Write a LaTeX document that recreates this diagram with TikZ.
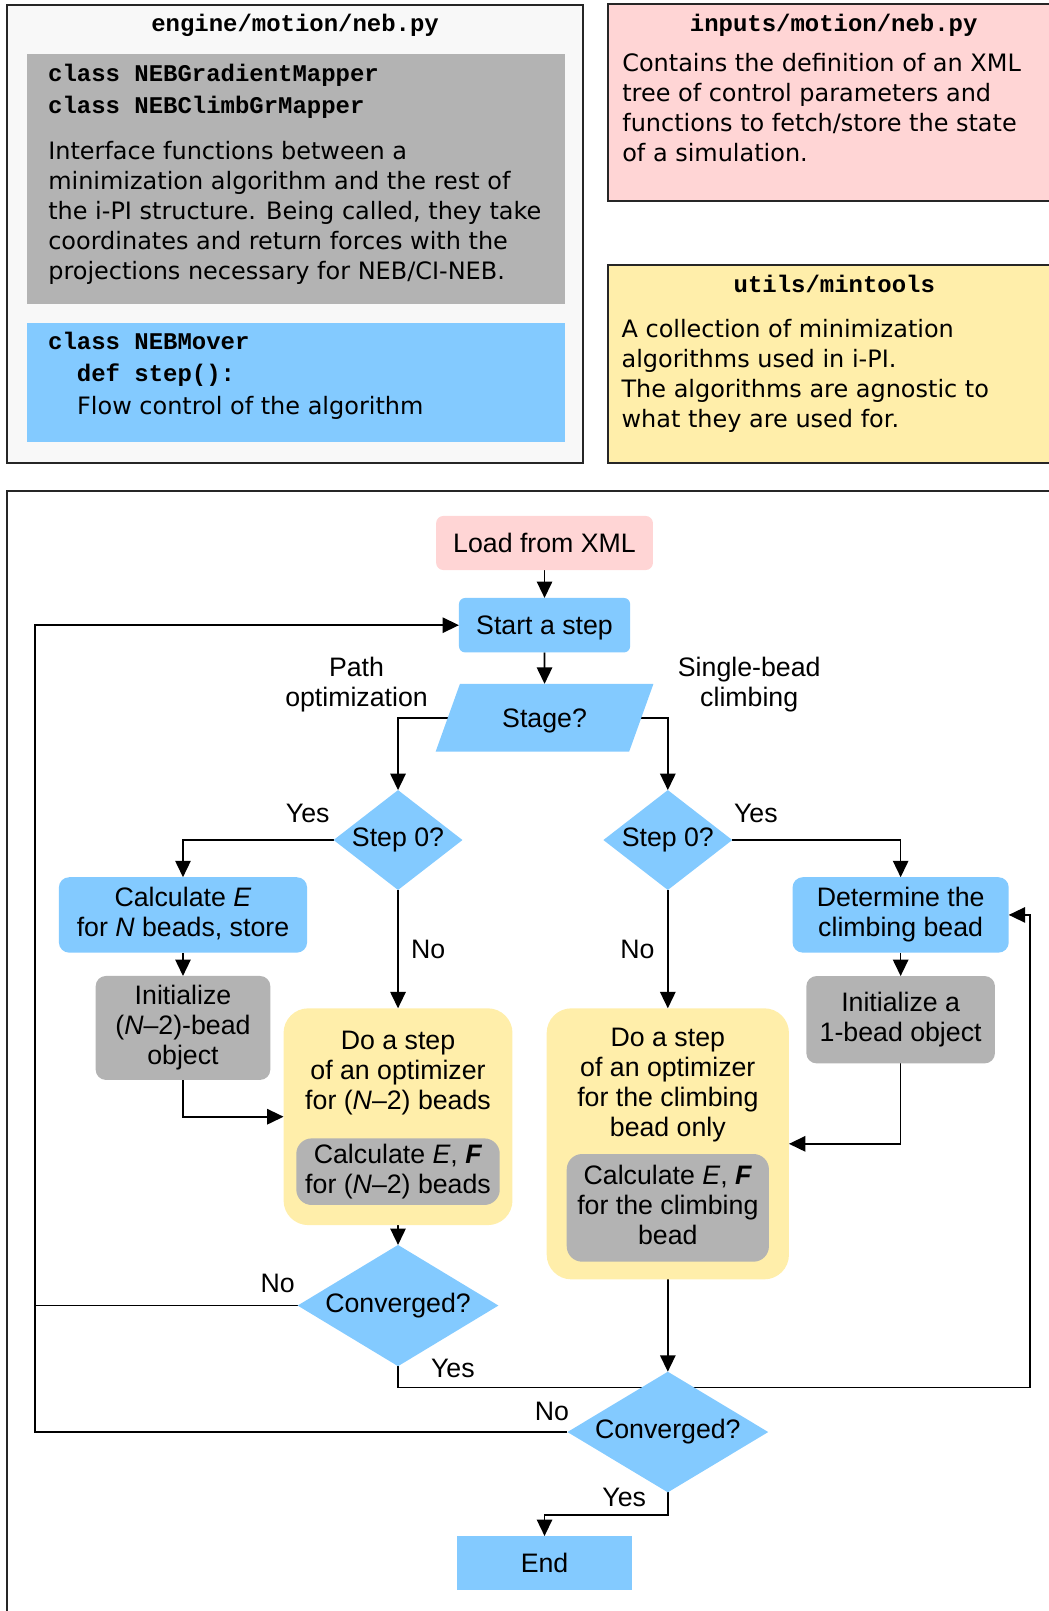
\documentclass[tikz,border=0pt]{standalone}
\usepackage{fontspec}
\setmainfont{DejaVu Sans}
\setmonofont{Liberation Mono}
\newfontfamily\flowfont{Liberation Sans}
\usetikzlibrary{positioning,arrows.meta,shapes.geometric}
\pgfdeclarelayer{bg}
\pgfsetlayers{bg,main}
\definecolor{nebBlue}{HTML}{83CAFF}
\definecolor{nebGray}{HTML}{B3B3B3}
\definecolor{nebYellow}{HTML}{FFEEAA}
\definecolor{nebPink}{HTML}{FFD5D5}
\definecolor{nebPaper}{HTML}{F8F8F8}
\tikzset{
	>={Triangle[length=8pt,width=7.5pt]}
}

\begin{document}
\begin{tikzpicture}[
x = 0.5pt, y = -0.5pt,
every node/.style = {
	inner sep = 0pt,
	outer sep = 0pt
},
fileBox/.style = {
	draw = black!85,
	line width = 1pt
},
fileTitle/.style = {
	anchor = base,
	font = \ttfamily\bfseries\fontsize{11.66}{15.4}\selectfont
},
codeText/.style = {
	anchor = base west,
	align = left,
	font = \ttfamily\bfseries\fontsize{11.66}{15.4}\selectfont
},
descText/.style = {
	anchor = base west,
	align = left,
	font = \fontsize{11.66}{14.6}\selectfont
},
chart/.style = {
	align = center,
	font = \flowfont\fontsize{13}{14.6}\selectfont
},
capCentre/.style = {
	execute at begin node = {\rule{0pt}{12.3pt}},
	execute at end node = {\rule[-3pt]{0pt}{3pt}}
},
answer/.style = {
	chart,
	anchor = base
},
procBox/.style = {
	chart,
	capCentre,
	fill = nebBlue,
	rounded corners = 5pt
},
initBox/.style = {
	chart,
	capCentre,
	fill = nebGray,
	rounded corners = 5pt
},
optBox/.style = {
	fill = nebYellow,
	rounded corners = 12pt
},
calcBox/.style = {
	chart,
	capCentre,
	fill = nebGray,
	rounded corners = 7.5pt
},
ask/.style = {
	chart,
	diamond,
	fill = nebBlue,
	aspect = 1.5
},
link/.style = {
	line width = 0.8pt
}
]

\useasboundingbox (0,0) rectangle (1021,1568);

\node (pyEngine) [fileBox, fill = nebPaper, minimum width = 280.6pt, minimum height = 222.7pt] at (287.2,227.6) {};
\node (pyEngine_t) [fileTitle] at (287.2,30.8) {engine/motion/neb.py};
\node (mapper) [fill = nebGray, minimum width = 261.8pt, minimum height = 121.7pt] at (288.2,174.3) {};
\node (mapper_c) [codeText] at (46.9,110.3) {class NEBGradientMapper\\class NEBClimbGrMapper};
\node (mapper_t) [descText] at (47,271.8) {Interface functions between a\\minimization algorithm and the rest of\\the i-PI structure. Being called, they take\\coordinates and return forces with the\\projections necessary for NEB/CI-NEB.};
\node (mover) [fill = nebBlue, minimum width = 261.8pt, minimum height = 57.6pt] at (288.2,372.2) {};
\node (mover_c) [codeText] at (46.9,371.4) {class NEBMover\\\hspace*{14pt}def step():};
\node (mover_t) [descText] at (75.1,403.2) {Flow control of the algorithm};

\node (pyInputs) [fileBox, fill = nebPink, minimum width = 224pt, minimum height = 95.7pt] at (816,99.6) {};
\node (pyInputs_t) [fileTitle] at (811.4,30.8) {inputs/motion/neb.py};
\node (pyInputs_d) [descText] at (605.7,157.6) {Contains the definition of an XML\\tree of control parameters and\\functions to fetch/store the state\\of a simulation.};

\node (pyMintools) [fileBox, fill = nebYellow, minimum width = 224pt, minimum height = 96.5pt] at (816,354.4) {};
\node (pyMintools_t) [fileTitle] at (812,284.8) {utils/mintools};
\node (pyMintools_d) [descText] at (605,416.2) {A collection of minimization\\algorithms used in i-PI.\\The algorithms are agnostic to\\what they are used for.};

\node (flowFrame) [fileBox, minimum width = 516.8pt, minimum height = 561pt] at (523.3,1039) {};

\node (load) [chart, capCentre, fill = nebPink, rounded corners = 3.5pt, minimum width = 105.5pt, minimum height = 26.3pt] at (530,528.5) {Load from XML};
\node (start) [procBox, rounded corners = 3pt, minimum width = 83.3pt, minimum height = 26.5pt] at (530,608.5) {Start a step};
\node (stage) [chart, capCentre, trapezium, trapezium left angle = 52.3, trapezium right angle = 127.7, trapezium stretches body, fill = nebBlue, minimum width = 106pt, minimum height = 33pt] at (530,698.6) {Stage?};
\node (pathLbl) [answer] at (347,687.8) {Path\\optimization};
\node (climbLbl) [answer] at (729.2,687.8) {Single-bead\\climbing};

\node (stepP) [ask, aspect = 1.29, minimum width = 62.7pt, minimum height = 48.6pt] at (387.4,817.6) {Step 0?};
\node (stepC) [ask, aspect = 1.29, minimum width = 62.7pt, minimum height = 48.6pt] at (650,817.6) {Step 0?};
\node (yesP) [answer] at (299.5,800.4) {Yes};
\node (yesC) [answer] at (735.7,800.4) {Yes};
\node (noP) [answer] at (416.7,932.7) {No};
\node (noC) [answer] at (620.5,932.7) {No};

\node (calcE) [procBox, minimum width = 120.8pt, minimum height = 36.7pt] at (178.1,890.5) {Calculate \textit{E}\\for \textit{N} beads, store};
\node (initN) [initBox, minimum width = 85pt, minimum height = 50.6pt] at (178.1,1000.5) {Initialize\\(\textit{N}–2)-bead\\object};
\node (optN) [optBox, minimum width = 111.4pt, minimum height = 105.5pt] at (387.4,1086.9) {};
\node (optN_t) [answer] at (387.4,1079.7) {Do a step\\of an optimizer\\for (\textit{N}–2) beads};
\node (calcN) [calcBox, minimum width = 99pt, minimum height = 32.4pt] at (387.4,1140.4) {Calculate \textit{E}, \textbf{\textit{F}}\\for (\textit{N}–2) beads};
\node (convN) [ask, aspect = 1.66, minimum width = 97.7pt, minimum height = 59pt] at (387.4,1270.7) {Converged?};
\node (noConvN) [answer] at (270.2,1257.9) {No};
\node (yesConvN) [answer] at (440.8,1340.6) {Yes};

\node (findC) [procBox, minimum width = 105.2pt, minimum height = 36.7pt] at (876.6,890.5) {Determine the\\climbing bead};
\node (initC) [initBox, minimum width = 91.8pt, minimum height = 42.5pt] at (876.6,992.5) {Initialize a\\1-bead object};
\node (optC) [optBox, minimum width = 117.9pt, minimum height = 131.9pt] at (650,1113.3) {};
\node (optC_t) [answer] at (650,1106.3) {Do a step\\of an optimizer\\for the climbing\\bead only};
\node (calcC) [calcBox, minimum width = 98.4pt, minimum height = 52.4pt] at (650,1175.6) {Calculate \textit{E}, \textbf{\textit{F}}\\for the climbing\\bead};
\node (convC) [ask, aspect = 1.66, minimum width = 97.7pt, minimum height = 58.7pt] at (650,1393.8) {Converged?};
\node (noConvC) [answer] at (537.2,1382.1) {No};
\node (yesConvC) [answer] at (607.5,1466.5) {Yes};

\node (finish) [chart, capCentre, fill = nebBlue, minimum width = 85.3pt, minimum height = 26.3pt] at (530,1521.3) {End};

\coordinate (loopL) at (33.9,0);
\coordinate (loopR) at (1002.7,1350.6);
\coordinate (endBend) at (650,1474.6);

\begin{pgfonlayer}{bg}
\draw [link, ->] (load.south) -- (start.north);
\draw [link, ->] (start.south) -- (stage.north);
\draw [link, ->] (stage.west) -| (stepP.north);
\draw [link, ->] (stage.east) -| (stepC.north);
\draw [link, ->] (stepP.west) -| (calcE.north);
\draw [link, ->] (stepC.east) -| (findC.north);
\draw [link, ->] (calcE.south) -- (initN.north);
\draw [link, ->] (initN.south) |- (optN.west);
\draw [link, ->] (stepP.south) -- (optN.north);
\draw [link, ->] (stepC.south) -- (optC.north);
\draw [link, ->] (findC.south) -- (initC.north);
\draw [link, ->] (initC.south) |- (optC.east);
\draw [link, ->] (optN.south) -- (convN.north);
\draw [link, ->] (optC.south) -- (convC.north);
\draw [link, ->] (convN.west) -- (convN.west -| loopL) |- (start.west);
\draw [link] (convC.west) -| (convN.west -| loopL);
\draw [link, ->] (convN.south) |- (loopR) |- (findC.east);
\draw [link, ->] (convC.south) -- (endBend) -| (finish.north);
\end{pgfonlayer}

\end{tikzpicture}
\end{document}
